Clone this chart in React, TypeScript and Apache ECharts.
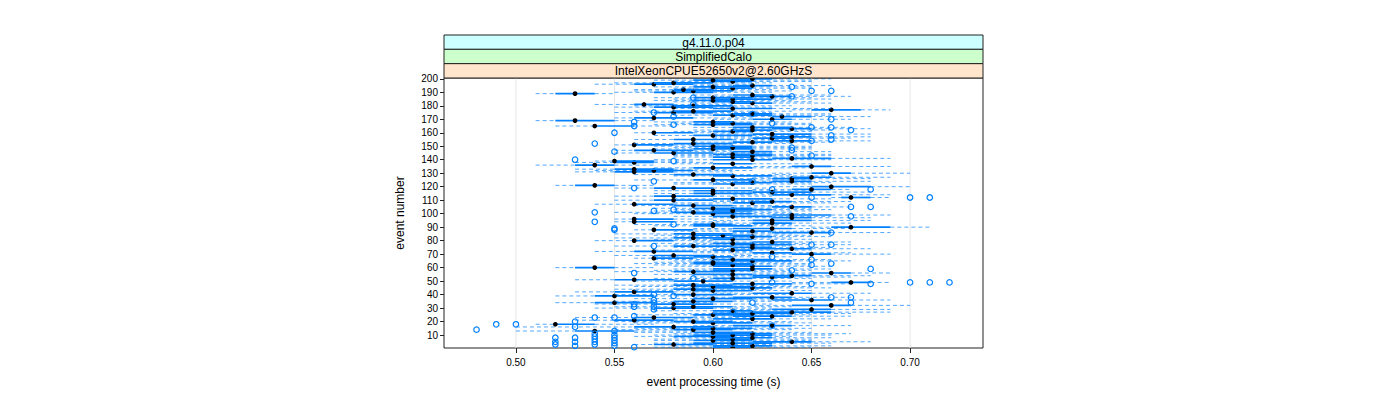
import { useEffect, useRef } from "react";
import * as echarts from "echarts";

const stripLabels = ["g4.11.0.p04", "SimplifiedCalo", "IntelXeonCPUE52650v2@2.60GHzS"];
const stripColors = ["#ccffff", "#ccffcc", "#ffe5cc"];
const xTicks = [0.5, 0.55, 0.6, 0.65, 0.7];
const yTicks = [10, 20, 30, 40, 50, 60, 70, 80, 90, 100, 110, 120, 130, 140, 150, 160, 170, 180, 190, 200];
const xTitle = "event processing time (s)";
const yTitle = "event number";

// [low whisker, Q1, median, Q3, high whisker] for event 1..200
const boxStats: number[][] = [
  [0.57, 0.60, 0.61, 0.62, 0.65], [0.58, 0.60, 0.62, 0.63, 0.66], [0.56, 0.57, 0.58, 0.60, 0.63], [0.57, 0.59, 0.61, 0.63, 0.66], [0.60, 0.62, 0.64, 0.65, 0.68],
  [0.57, 0.59, 0.60, 0.62, 0.65], [0.57, 0.60, 0.61, 0.62, 0.65], [0.58, 0.60, 0.62, 0.63, 0.66], [0.56, 0.58, 0.60, 0.61, 0.64], [0.57, 0.59, 0.61, 0.63, 0.66],
  [0.58, 0.60, 0.62, 0.63, 0.67], [0.56, 0.59, 0.60, 0.62, 0.65], [0.50, 0.53, 0.54, 0.56, 0.59], [0.55, 0.58, 0.59, 0.61, 0.64], [0.56, 0.59, 0.60, 0.62, 0.65],
  [0.50, 0.56, 0.58, 0.60, 0.63], [0.59, 0.61, 0.63, 0.64, 0.67], [0.51, 0.52, 0.52, 0.54, 0.57], [0.56, 0.59, 0.60, 0.62, 0.65], [0.55, 0.58, 0.59, 0.61, 0.64],
  [0.53, 0.55, 0.56, 0.58, 0.61], [0.58, 0.60, 0.62, 0.63, 0.66], [0.53, 0.56, 0.57, 0.59, 0.62], [0.59, 0.61, 0.63, 0.64, 0.67], [0.56, 0.59, 0.60, 0.62, 0.65],
  [0.58, 0.60, 0.62, 0.64, 0.67], [0.60, 0.62, 0.64, 0.66, 0.69], [0.57, 0.60, 0.61, 0.62, 0.65], [0.61, 0.63, 0.65, 0.66, 0.69], [0.54, 0.57, 0.58, 0.60, 0.63],
  [0.55, 0.58, 0.59, 0.61, 0.64], [0.62, 0.64, 0.66, 0.67, 0.70], [0.54, 0.57, 0.58, 0.60, 0.63], [0.52, 0.54, 0.55, 0.57, 0.60], [0.55, 0.58, 0.59, 0.61, 0.64],
  [0.61, 0.63, 0.65, 0.66, 0.69], [0.56, 0.59, 0.60, 0.62, 0.65], [0.59, 0.61, 0.63, 0.64, 0.67], [0.52, 0.54, 0.55, 0.57, 0.60], [0.55, 0.58, 0.59, 0.61, 0.64],
  [0.60, 0.62, 0.64, 0.65, 0.68], [0.53, 0.55, 0.56, 0.58, 0.61], [0.56, 0.59, 0.60, 0.62, 0.65], [0.55, 0.58, 0.59, 0.60, 0.63], [0.58, 0.60, 0.62, 0.63, 0.66],
  [0.56, 0.59, 0.60, 0.62, 0.65], [0.55, 0.58, 0.59, 0.61, 0.64], [0.58, 0.61, 0.62, 0.64, 0.67], [0.64, 0.66, 0.67, 0.68, 0.69], [0.56, 0.58, 0.595, 0.61, 0.64],
  [0.53, 0.55, 0.56, 0.58, 0.61], [0.57, 0.60, 0.61, 0.62, 0.65], [0.59, 0.62, 0.63, 0.64, 0.67], [0.60, 0.62, 0.64, 0.65, 0.68], [0.57, 0.59, 0.61, 0.62, 0.65],
  [0.62, 0.65, 0.66, 0.67, 0.69], [0.55, 0.58, 0.59, 0.61, 0.64], [0.57, 0.60, 0.61, 0.62, 0.65], [0.58, 0.60, 0.62, 0.63, 0.66], [0.52, 0.53, 0.54, 0.55, 0.57],
  [0.58, 0.60, 0.62, 0.63, 0.66], [0.57, 0.60, 0.61, 0.62, 0.65], [0.56, 0.59, 0.60, 0.62, 0.65], [0.57, 0.59, 0.60, 0.61, 0.64], [0.58, 0.61, 0.62, 0.64, 0.67],
  [0.57, 0.60, 0.61, 0.63, 0.66], [0.56, 0.57, 0.57, 0.59, 0.61], [0.57, 0.59, 0.60, 0.61, 0.64], [0.55, 0.57, 0.58, 0.60, 0.62], [0.61, 0.64, 0.65, 0.66, 0.69],
  [0.59, 0.62, 0.63, 0.64, 0.67], [0.54, 0.56, 0.57, 0.59, 0.62], [0.57, 0.60, 0.61, 0.62, 0.65], [0.60, 0.62, 0.64, 0.65, 0.68], [0.58, 0.61, 0.62, 0.63, 0.66],
  [0.55, 0.58, 0.59, 0.61, 0.64], [0.58, 0.61, 0.62, 0.64, 0.67], [0.57, 0.60, 0.61, 0.62, 0.65], [0.59, 0.62, 0.63, 0.64, 0.67], [0.54, 0.56, 0.56, 0.58, 0.60],
  [0.57, 0.60, 0.61, 0.62, 0.65], [0.55, 0.58, 0.59, 0.61, 0.64], [0.58, 0.61, 0.62, 0.63, 0.66], [0.57, 0.59, 0.605, 0.62, 0.65], [0.55, 0.58, 0.59, 0.61, 0.64],
  [0.61, 0.63, 0.65, 0.66, 0.69], [0.58, 0.61, 0.62, 0.63, 0.66], [0.56, 0.57, 0.57, 0.59, 0.61], [0.59, 0.61, 0.63, 0.64, 0.67], [0.65, 0.66, 0.67, 0.69, 0.71],
  [0.57, 0.59, 0.60, 0.62, 0.65], [0.56, 0.59, 0.60, 0.61, 0.64], [0.59, 0.62, 0.63, 0.64, 0.67], [0.55, 0.56, 0.56, 0.58, 0.61], [0.60, 0.62, 0.63, 0.65, 0.68],
  [0.55, 0.56, 0.56, 0.58, 0.60], [0.60, 0.63, 0.64, 0.65, 0.68], [0.58, 0.60, 0.61, 0.63, 0.66], [0.61, 0.63, 0.64, 0.66, 0.69], [0.56, 0.59, 0.60, 0.62, 0.65],
  [0.55, 0.58, 0.59, 0.61, 0.64], [0.57, 0.60, 0.61, 0.62, 0.65], [0.58, 0.60, 0.61, 0.63, 0.66], [0.57, 0.59, 0.60, 0.62, 0.65], [0.61, 0.63, 0.64, 0.65, 0.67],
  [0.56, 0.58, 0.59, 0.61, 0.64], [0.54, 0.56, 0.56, 0.58, 0.60], [0.58, 0.61, 0.62, 0.63, 0.66], [0.60, 0.62, 0.63, 0.64, 0.67], [0.55, 0.57, 0.58, 0.60, 0.63],
  [0.58, 0.60, 0.61, 0.63, 0.66], [0.66, 0.665, 0.67, 0.68, 0.69], [0.55, 0.57, 0.58, 0.60, 0.63], [0.61, 0.63, 0.64, 0.66, 0.69], [0.57, 0.59, 0.60, 0.62, 0.65],
  [0.60, 0.62, 0.63, 0.65, 0.68], [0.57, 0.59, 0.60, 0.62, 0.65], [0.62, 0.64, 0.65, 0.66, 0.67], [0.55, 0.57, 0.58, 0.60, 0.63], [0.63, 0.65, 0.66, 0.68, 0.70],
  [0.52, 0.53, 0.54, 0.55, 0.57], [0.58, 0.60, 0.61, 0.62, 0.65], [0.58, 0.61, 0.62, 0.63, 0.66], [0.60, 0.63, 0.64, 0.65, 0.68], [0.56, 0.59, 0.60, 0.62, 0.65],
  [0.61, 0.63, 0.64, 0.65, 0.68], [0.62, 0.64, 0.65, 0.66, 0.69], [0.58, 0.60, 0.61, 0.63, 0.66], [0.56, 0.58, 0.59, 0.61, 0.64], [0.63, 0.65, 0.66, 0.67, 0.70],
  [0.53, 0.55, 0.56, 0.58, 0.61], [0.54, 0.56, 0.57, 0.59, 0.62], [0.53, 0.55, 0.56, 0.58, 0.61], [0.57, 0.59, 0.60, 0.62, 0.65], [0.61, 0.64, 0.65, 0.66, 0.69],
  [0.51, 0.53, 0.54, 0.55, 0.57], [0.58, 0.60, 0.61, 0.62, 0.65], [0.53, 0.55, 0.56, 0.57, 0.60], [0.54, 0.55, 0.55, 0.57, 0.59], [0.57, 0.60, 0.62, 0.63, 0.66],
  [0.61, 0.63, 0.64, 0.66, 0.69], [0.58, 0.60, 0.61, 0.62, 0.65], [0.58, 0.61, 0.62, 0.63, 0.66], [0.58, 0.60, 0.61, 0.63, 0.66], [0.55, 0.57, 0.58, 0.60, 0.63],
  [0.58, 0.61, 0.62, 0.63, 0.66], [0.55, 0.56, 0.57, 0.59, 0.61], [0.57, 0.59, 0.60, 0.62, 0.65], [0.58, 0.60, 0.61, 0.62, 0.65], [0.57, 0.59, 0.60, 0.62, 0.65],
  [0.55, 0.56, 0.56, 0.58, 0.61], [0.56, 0.58, 0.59, 0.61, 0.64], [0.59, 0.61, 0.62, 0.63, 0.66], [0.61, 0.63, 0.64, 0.65, 0.68], [0.56, 0.58, 0.59, 0.61, 0.64],
  [0.60, 0.62, 0.63, 0.64, 0.67], [0.60, 0.63, 0.64, 0.65, 0.68], [0.57, 0.59, 0.60, 0.62, 0.65], [0.60, 0.62, 0.63, 0.65, 0.68], [0.56, 0.57, 0.57, 0.59, 0.62],
  [0.58, 0.60, 0.61, 0.62, 0.65], [0.59, 0.61, 0.62, 0.63, 0.66], [0.61, 0.63, 0.64, 0.65, 0.68], [0.59, 0.61, 0.62, 0.64, 0.67], [0.52, 0.54, 0.54, 0.56, 0.58],
  [0.57, 0.59, 0.60, 0.62, 0.65], [0.58, 0.60, 0.61, 0.62, 0.65], [0.57, 0.59, 0.60, 0.61, 0.64], [0.51, 0.52, 0.53, 0.55, 0.57], [0.60, 0.62, 0.63, 0.64, 0.67],
  [0.55, 0.56, 0.57, 0.59, 0.62], [0.61, 0.63, 0.635, 0.65, 0.68], [0.58, 0.60, 0.61, 0.63, 0.66], [0.59, 0.61, 0.62, 0.63, 0.66], [0.55, 0.57, 0.58, 0.60, 0.63],
  [0.56, 0.58, 0.59, 0.61, 0.64], [0.64, 0.65, 0.66, 0.675, 0.69], [0.58, 0.60, 0.61, 0.63, 0.66], [0.55, 0.57, 0.58, 0.60, 0.63], [0.56, 0.58, 0.59, 0.61, 0.64],
  [0.54, 0.56, 0.565, 0.58, 0.61], [0.59, 0.61, 0.62, 0.63, 0.66], [0.58, 0.60, 0.61, 0.62, 0.65], [0.57, 0.59, 0.60, 0.61, 0.64], [0.58, 0.60, 0.61, 0.63, 0.66],
  [0.57, 0.59, 0.60, 0.62, 0.65], [0.60, 0.62, 0.63, 0.64, 0.67], [0.59, 0.61, 0.62, 0.63, 0.66], [0.51, 0.52, 0.53, 0.54, 0.55], [0.55, 0.57, 0.58, 0.60, 0.63],
  [0.56, 0.58, 0.59, 0.61, 0.64], [0.56, 0.58, 0.585, 0.60, 0.63], [0.58, 0.60, 0.61, 0.62, 0.65], [0.57, 0.59, 0.60, 0.62, 0.65], [0.59, 0.61, 0.62, 0.63, 0.66],
  [0.54, 0.56, 0.57, 0.59, 0.62], [0.55, 0.57, 0.58, 0.60, 0.63], [0.58, 0.60, 0.61, 0.62, 0.65], [0.57, 0.59, 0.60, 0.62, 0.65], [0.59, 0.61, 0.62, 0.63, 0.66],
];

// outliers: [time, event]
const outliers: number[][] = [
  [0.48, 14], [0.49, 18], [0.50, 18],
  [0.52, 3], [0.52, 5], [0.52, 8], [0.53, 2], [0.53, 5], [0.53, 8], [0.53, 16], [0.53, 20],
  [0.54, 3], [0.54, 5], [0.54, 7], [0.54, 9], [0.54, 11], [0.54, 23],
  [0.55, 2], [0.55, 4], [0.55, 6], [0.55, 8], [0.55, 10], [0.55, 13], [0.55, 23],
  [0.56, 1], [0.56, 24], [0.56, 31], [0.56, 33],
  [0.57, 29], [0.57, 31], [0.57, 34], [0.57, 36], [0.57, 40], [0.58, 39],
  [0.62, 34], [0.61, 27], [0.63, 17],
  [0.66, 38], [0.67, 38], [0.67, 34],
  [0.65, 48], [0.68, 48], [0.70, 49], [0.71, 49], [0.72, 49], [0.63, 49],
  [0.56, 56], [0.59, 52], [0.64, 58], [0.68, 59], [0.65, 62], [0.65, 66], [0.66, 63], [0.63, 68],
  [0.57, 76], [0.65, 77], [0.66, 77], [0.66, 86], [0.55, 88], [0.58, 92], [0.54, 94],
  [0.67, 98], [0.57, 102], [0.58, 103], [0.54, 101], [0.55, 89],
  [0.67, 105], [0.68, 105], [0.70, 112], [0.71, 112], [0.65, 112],
  [0.68, 118], [0.63, 118], [0.56, 119], [0.57, 124], [0.62, 124],
  [0.53, 140], [0.58, 139], [0.65, 143], [0.55, 146], [0.64, 147], [0.64, 149], [0.54, 152],
  [0.65, 154], [0.66, 155], [0.66, 158], [0.55, 160], [0.67, 162], [0.65, 164], [0.66, 164],
  [0.56, 165], [0.58, 166], [0.63, 167], [0.56, 168], [0.66, 170], [0.58, 172], [0.62, 174], [0.57, 175],
  [0.59, 181], [0.59, 186], [0.64, 187], [0.65, 191], [0.66, 191], [0.64, 194],
];

const BLUE = "#0080ff";
const FONT = "'Liberation Sans', Arial, sans-serif";
const L = 444, R = 983, T = 78, B = 348;
const STRIP_TOP = 35;
const X_MIN = 0.4635, X_MAX = 0.737;
const Y_MIN = 0.4, Y_MAX = 200.6;

export default function App() {
  const ref = useRef<HTMLDivElement>(null);
  useEffect(() => {
    if (!ref.current) return;
    const chart = echarts.init(ref.current, null, { renderer: "svg" });
    const stripH = (T - STRIP_TOP) / stripLabels.length;
    const strips: any[] = [];
    stripLabels.forEach((lab, i) => {
      const y = STRIP_TOP + i * stripH;
      strips.push({
        type: "rect",
        shape: { x: L, y, width: R - L, height: stripH },
        style: { fill: stripColors[i], stroke: "#222", lineWidth: 1 },
        silent: true,
        z: 10,
      });
      strips.push({
        type: "text",
        x: (L + R) / 2,
        y: y + stripH / 2 + 0.5,
        style: { text: lab, fontSize: 12, fontFamily: FONT, fill: "#000", align: "center", verticalAlign: "middle" },
        silent: true,
        z: 11,
      });
    });
    const boxData = boxStats.map((r, i) => [i + 1, r[0], r[1], r[2], r[3], r[4]]);
    const refLineData = xTicks.map((v) => [v]);
    chart.setOption({
      animation: false,
      grid: [
        { left: L, top: T, width: R - L, height: B - T, show: true, borderColor: "#222", borderWidth: 1, backgroundColor: "transparent" },
        { left: L, top: STRIP_TOP, width: R - L, height: T - STRIP_TOP, show: false },
      ],
      xAxis: [
        {
          type: "value", gridIndex: 0, min: X_MIN, max: X_MAX, position: "bottom",
          axisLine: { show: false },
          axisTick: { show: true, inside: false, length: 5, lineStyle: { color: "#222" }, customValues: xTicks },
          axisLabel: { show: true, margin: 9, fontSize: 10, fontFamily: FONT, color: "#000", customValues: xTicks, formatter: (v: number) => v.toFixed(2) },
          splitLine: { show: false },
          name: xTitle, nameLocation: "middle", nameGap: 28,
          nameTextStyle: { fontSize: 12, fontFamily: FONT, color: "#000" },
        },
        {
          type: "value", gridIndex: 1, min: X_MIN, max: X_MAX, position: "top",
          axisLine: { show: false },
          axisTick: { show: true, inside: false, length: 6, lineStyle: { color: "#222" }, customValues: xTicks },
          axisLabel: { show: false },
          splitLine: { show: false },
        },
      ],
      yAxis: [
        {
          type: "value", gridIndex: 0, min: Y_MIN, max: Y_MAX,
          axisLine: { show: false },
          axisTick: { show: true, inside: false, length: 4, lineStyle: { color: "#222" }, customValues: yTicks },
          axisLabel: { show: true, margin: 6, fontSize: 10, fontFamily: FONT, color: "#000", customValues: yTicks },
          splitLine: { show: false },
          name: yTitle, nameLocation: "middle", nameGap: 38, nameRotate: 90,
          nameTextStyle: { fontSize: 12, fontFamily: FONT, color: "#000" },
        },
        { type: "value", gridIndex: 1, min: 0, max: 1, show: false },
      ],
      graphic: strips,
      series: [
        {
          type: "custom", xAxisIndex: 0, yAxisIndex: 0, z: 1, silent: true,
          encode: { x: 0 },
          data: refLineData,
          renderItem: (params: any, api: any) => {
            const p0 = api.coord([api.value(0), Y_MIN]);
            const p1 = api.coord([api.value(0), Y_MAX]);
            return { type: "line", shape: { x1: p0[0], y1: p0[1], x2: p1[0], y2: p1[1] }, style: { stroke: "#e6e6e6", lineWidth: 1 } };
          },
        },
        {
          type: "scatter", xAxisIndex: 1, yAxisIndex: 1, data: [], silent: true,
        },
        {
          type: "custom", xAxisIndex: 0, yAxisIndex: 0, z: 2, silent: true, clip: true,
          encode: { x: [1, 2, 3, 4, 5], y: 0 },
          data: boxData,
          renderItem: (params: any, api: any) => {
            const ev = api.value(0);
            const pLow = api.coord([api.value(1), ev]);
            const pQ1 = api.coord([api.value(2), ev]);
            const pMed = api.coord([api.value(3), ev]);
            const pQ3 = api.coord([api.value(4), ev]);
            const pHigh = api.coord([api.value(5), ev]);
            const y = pMed[1];
            const dash = { stroke: BLUE, lineWidth: 0.8, lineDash: [4, 3], fill: "none", opacity: 0.85 };
            return {
              type: "group",
              children: [
                { type: "line", shape: { x1: pLow[0], y1: y, x2: pQ1[0], y2: y }, style: dash },
                { type: "line", shape: { x1: pQ3[0], y1: y, x2: pHigh[0], y2: y }, style: dash },
                { type: "line", shape: { x1: pQ1[0], y1: y, x2: pQ3[0], y2: y }, style: { stroke: BLUE, lineWidth: 1.7, fill: "none" } },
                { type: "circle", shape: { cx: pMed[0], cy: y, r: 2.35 }, style: { fill: "#000", stroke: "none" } },
              ],
            };
          },
        },
        {
          type: "scatter", xAxisIndex: 0, yAxisIndex: 0, z: 3, silent: true,
          symbol: "circle", symbolSize: 5.5,
          itemStyle: { color: "rgba(0,0,0,0)", borderColor: BLUE, borderWidth: 1.2, opacity: 1 },
          data: outliers,
        },
      ],
    });
    return () => chart.dispose();
  }, []);
  return <div ref={ref} style={{ position: "absolute", left: 0, top: 0, width: 1400, height: 400 }} />;
}
